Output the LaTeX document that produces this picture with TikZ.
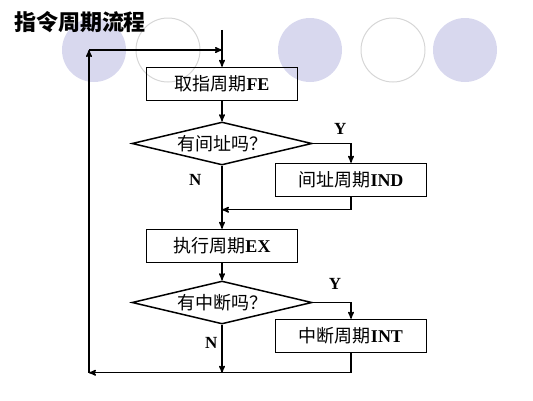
\documentclass[tikz,border=0pt]{standalone}
\usepackage{fontspec}
\setmainfont{Liberation Serif}
\newfontfamily\cjk{Noto Sans CJK SC}
\usetikzlibrary{arrows,positioning,shapes.geometric}
\definecolor{lila}{RGB}{216,216,238}
\definecolor{ringgray}{RGB}{214,214,214}
\newcommand{\zh}[1]{{\cjk\mdseries #1}}
\tikzset{
	%Define standard arrow tip
	>=stealth',
	%Define style for boxes
	kasten/.style={
		rectangle,
		draw=black, line width=1.5pt,
		minimum width=151pt,
		minimum height=33pt,
		inner sep=0pt,
		font=\fontsize{18}{21}\selectfont\bfseries},
	%Define style for decisions
	raute/.style={
		diamond, aspect=4.2,
		draw=black, line width=1.5pt,
		minimum width=180pt,
		minimum height=43pt,
		inner sep=0pt,
		font=\fontsize{18}{21}\selectfont},
	% Define arrow style
	pil/.style={
		->,
		line width=1.4pt},
	% Y/N labels
	jn/.style={inner sep=0pt, font=\fontsize{17}{20}\selectfont\bfseries},
	% background circles
	scheibe/.style={fill=lila, draw=none},
	ring/.style={draw=ringgray, line width=1pt}
}

\begin{document}
\begin{tikzpicture}[x=1pt, y=-1pt, node distance=20pt]
	
	\pgfdeclarelayer{bg}    % background layer for the circles
	\pgfsetlayers{bg,main}
	
	\useasboundingbox (0,0) rectangle (533,400);
	
	\begin{pgfonlayer}{bg}
		\fill[scheibe] (94,50) circle (32);
		\draw[ring] (168,50) circle (32);
		\fill[scheibe] (310,50) circle (32);
		\draw[ring] (393,50) circle (32);
		\fill[scheibe] (465,50) circle (32);
	\end{pgfonlayer}
	
	\node[font=\fontsize{22}{25}\selectfont] (title) at (80,22) {\cjk\bfseries 指令周期流程};
	
	\node[kasten] (fe) at (222,84) {\zh{取指周期}FE};
	\node[raute, below=20pt of fe] (chk1) {\zh{有间址吗？}};
	\node[kasten] (ind) at (351,180) {\zh{间址周期}IND};
	\node[kasten, below=63pt of chk1] (ex) {\zh{执行周期}EX};
	\node[raute, below=17pt of ex] (chk2) {\zh{有中断吗？}};
	\node[kasten] (int) at (351,336) {\zh{中断周期}INT};
	
	\coordinate[above=37pt of fe.north] (entry);
	\coordinate[below=44pt of chk1.south] (m1);
	\coordinate[below=48pt of chk2.south] (m2);
	\coordinate (looptl) at (89,50);
	\coordinate (loopbl) at (m2 -| looptl);
	\coordinate (m0) at (looptl -| fe);
	
	\draw[pil] (entry) -- (fe);
	\draw[pil] (fe) -- (chk1);
	\draw[pil] (chk1.east) -| node[jn, pos=0.36, above=8pt] (y1) {Y} (ind);
	\draw[pil] (chk1) -- node[jn, pos=0.22, left=20pt] (n1) {N} (ex);
	\draw[pil] (ind) |- (m1);
	\draw[pil] (ex) -- (chk2);
	\draw[pil] (chk2.east) -| node[jn, pos=0.29, above=12pt] (y2) {Y} (int);
	\draw[pil] (chk2) -- node[jn, pos=0.37, left=4pt] (n2) {N} (m2);
	\draw[pil] (int) |- (loopbl);
	\draw[pil] (loopbl) -- (looptl);
	\draw[pil] (looptl) -- (m0);
	
\end{tikzpicture}
\end{document}
